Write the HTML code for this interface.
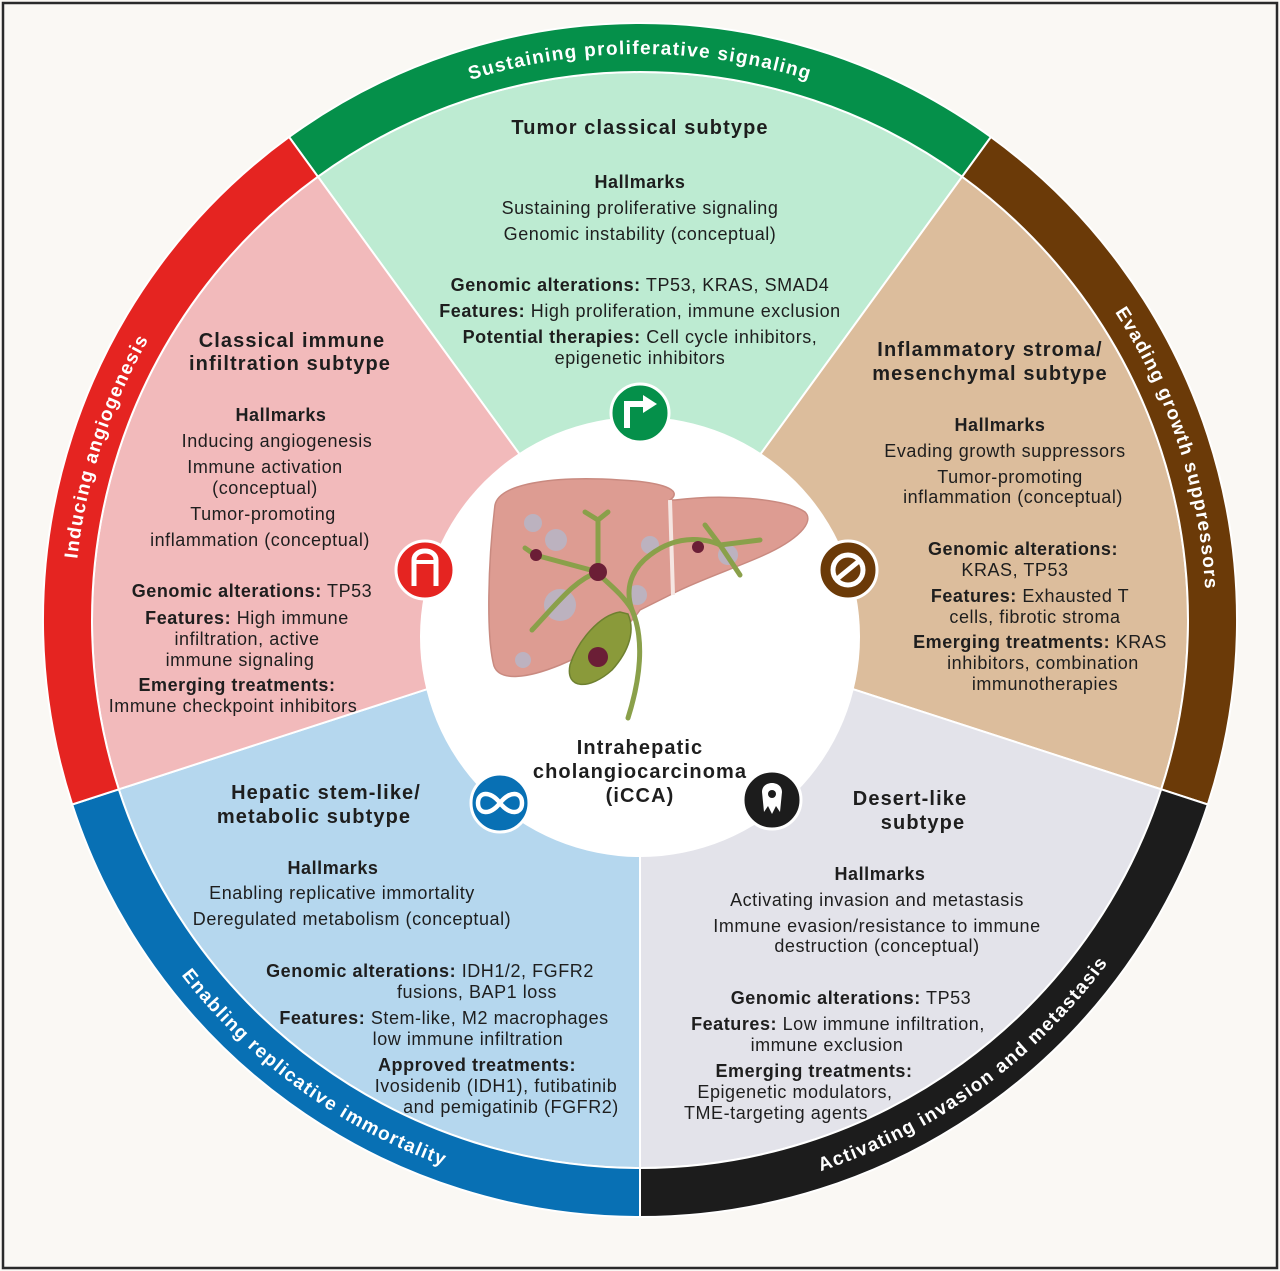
<!DOCTYPE html>
<html><head><meta charset="utf-8"><style>
html,body{margin:0;padding:0;background:#faf8f4}
svg{display:block}
text{font-family:"Liberation Sans",sans-serif;fill:#1e1e1e}
.b{font-size:18px;text-anchor:middle;letter-spacing:0.55px}
.t{font-size:20px;font-weight:bold;text-anchor:middle;letter-spacing:1.1px}
.h{font-weight:bold}
.r{font-family:"Liberation Sans",sans-serif;font-size:19px;font-weight:bold;fill:#fff;letter-spacing:1.3px}
</style></head><body>
<svg width="1280" height="1271" viewBox="0 0 1280 1271" xmlns="http://www.w3.org/2000/svg">
<rect x="3" y="3" width="1274" height="1265" fill="#faf8f4" stroke="#2a2a2a" stroke-width="2.5"/>
<g stroke="#fff" stroke-width="2">
<path d="M640,620 L317.9,176.7 A548,548 0 0 1 962.1,176.7 Z" fill="#bdebd2"/>
<path d="M640,620 L962.1,176.7 A548,548 0 0 1 1161.2,789.3 Z" fill="#dcbd9c"/>
<path d="M640,620 L1161.2,789.3 A548,548 0 0 1 640,1168 Z" fill="#e3e3ea"/>
<path d="M640,620 L640,1168 A548,548 0 0 1 118.8,789.3 Z" fill="#b5d7ee"/>
<path d="M640,620 L118.8,789.3 A548,548 0 0 1 317.9,176.7 Z" fill="#f2babb"/>
</g>
<g stroke="#fff" stroke-width="2">
<path d="M289.1,137 A597,597 0 0 1 990.9,137 L962.1,176.7 A548,548 0 0 0 317.9,176.7 Z" fill="#05904a"/>
<path d="M990.9,137 A597,597 0 0 1 1207.8,804.5 L1161.2,789.3 A548,548 0 0 0 962.1,176.7 Z" fill="#6b3a08"/>
<path d="M1207.8,804.5 A597,597 0 0 1 640,1217 L640,1168 A548,548 0 0 0 1161.2,789.3 Z" fill="#1c1c1c"/>
<path d="M640,1217 A597,597 0 0 1 72.2,804.5 L118.8,789.3 A548,548 0 0 0 640,1168 Z" fill="#0870b4"/>
<path d="M72.2,804.5 A597,597 0 0 1 289.1,137 L317.9,176.7 A548,548 0 0 0 118.8,789.3 Z" fill="#e52421"/>
</g>
<defs>
<path id="pt" d="M307.3,162.1 A566,566 0 0 1 972.7,162.1"/>
<path id="pr" d="M972.7,162.1 A566,566 0 0 1 1178.3,794.9"/>
<path id="pl" d="M101.7,794.9 A566,566 0 0 1 307.3,162.1"/>
<path id="pbr" d="M640,1200 A580,580 0 0 0 1191.6,799.2"/>
<path id="pbl" d="M88.4,799.2 A580,580 0 0 0 640,1200"/>
</defs>
<text class="r" text-anchor="middle"><textPath href="#pt" startOffset="50%">Sustaining proliferative signaling</textPath></text>
<text class="r" text-anchor="middle"><textPath href="#pr" startOffset="50%">Evading growth suppressors</textPath></text>
<text class="r" text-anchor="middle"><textPath href="#pl" startOffset="50%">Inducing angiogenesis</textPath></text>
<text class="r" text-anchor="middle"><textPath href="#pbr" startOffset="50%">Activating invasion and metastasis</textPath></text>
<text class="r" text-anchor="middle"><textPath href="#pbl" startOffset="50%">Enabling replicative immortality</textPath></text>

<circle cx="640" cy="637" r="220" fill="#fff"/>
<g>
<path d="M495,505 C500,482 560,476 620,480 C662,482 684,490 670,500 L675,500 C722,494 785,498 805,512 C815,522 798,540 762,556 C735,568 700,580 676,592 L640,610 C625,632 600,648 560,665 C528,678 500,682 494,666 C486,636 488,562 495,505 Z" fill="#dd9c92" stroke="#c98a80" stroke-width="1.5"/>
<path d="M670,500 L673,595" stroke="#f5e6e2" stroke-width="4"/>
<g fill="#b7b6c8" opacity="0.85">
<circle cx="533" cy="523" r="9"/><circle cx="556" cy="540" r="11"/><circle cx="650" cy="545" r="9"/><circle cx="728" cy="555" r="10"/>
<circle cx="560" cy="605" r="16"/><circle cx="637" cy="595" r="10"/><circle cx="523" cy="660" r="8"/>
</g>
<g stroke="#8aa04a" stroke-width="5" fill="none" stroke-linecap="round">
<path d="M628,718 C640,680 645,640 632,610 C625,590 630,570 650,555 C680,532 710,540 720,545"/>
<path d="M632,610 C620,590 600,578 598,572 L535,555"/>
<path d="M598,572 L598,520 L585,512 M598,520 L608,512"/>
<path d="M598,572 C575,580 560,600 532,630"/>
<path d="M720,545 L760,540 M720,545 L740,575 M720,545 L705,525"/>
<path d="M535,555 L525,548"/>
</g>
<path d="M620,612 C600,615 578,640 570,665 C565,690 590,690 612,670 C630,650 635,630 628,614 Z" fill="#8a9a3a" stroke="#6e8030" stroke-width="1.5"/>
<g fill="#6b1e36">
<circle cx="536" cy="555" r="6"/><circle cx="598" cy="572" r="9"/><circle cx="698" cy="547" r="6"/><circle cx="598" cy="657" r="10"/>
</g>
</g>
<text class="t" x="640" y="754">Intrahepatic</text>
<text class="t" x="640" y="778">cholangiocarcinoma</text>
<text class="t" x="640" y="802">(iCCA)</text>

<g stroke="#fff" stroke-width="3">
<circle cx="640" cy="413" r="29" fill="#05904a"/>
<circle cx="425" cy="570" r="29" fill="#e52421"/>
<circle cx="848" cy="570" r="29" fill="#6b3a08"/>
<circle cx="500" cy="803" r="29" fill="#0870b4"/>
<circle cx="772" cy="800" r="29" fill="#1c1c1c"/>
</g>
<path d="M627,428 L627,404 L645,404" stroke="#fff" stroke-width="6" fill="none"/>
<path d="M643,395 L657,404 L643,413 Z" fill="#fff"/>
<path d="M414,586 L414,560 C414,548 436,548 436,560 L436,586" stroke="#fff" stroke-width="5" fill="none"/>
<path d="M414,562 L436,562" stroke="#fff" stroke-width="4"/>
<circle cx="848" cy="570" r="15" fill="none" stroke="#fff" stroke-width="5"/>
<path d="M837,579 L859,561" stroke="#fff" stroke-width="5"/>
<path d="M500,803 C490,790 478,792 478,803 C478,814 490,816 500,803 C510,790 522,792 522,803 C522,814 510,816 500,803 Z" fill="none" stroke="#fff" stroke-width="4.5"/>
<path d="M764,812 L762,792 C762,780 782,780 782,792 L780,812 L776,806 L772,814 L768,806 Z" fill="#fff"/>
<circle cx="772" cy="794" r="4" fill="#1c1c1c"/>

<text class="t" x="640" y="134">Tumor classical subtype</text>
<text class="b" x="640" y="188"><tspan class="h">Hallmarks</tspan></text>
<text class="b" x="640" y="214">Sustaining proliferative signaling</text>
<text class="b" x="640" y="240">Genomic instability (conceptual)</text>
<text class="b" x="640" y="291"><tspan class="h">Genomic alterations:</tspan> TP53, KRAS, SMAD4</text>
<text class="b" x="640" y="317"><tspan class="h">Features:</tspan> High proliferation, immune exclusion</text>
<text class="b" x="640" y="343"><tspan class="h">Potential therapies:</tspan> Cell cycle inhibitors,</text>
<text class="b" x="640" y="364">epigenetic inhibitors</text>

<text class="t" x="292" y="347">Classical immune</text>
<text class="t" x="290" y="370">infiltration subtype</text>
<text class="b" x="281" y="421"><tspan class="h">Hallmarks</tspan></text>
<text class="b" x="277" y="447">Inducing angiogenesis</text>
<text class="b" x="265" y="473">Immune activation</text>
<text class="b" x="265" y="494">(conceptual)</text>
<text class="b" x="263" y="520">Tumor-promoting</text>
<text class="b" x="260" y="546">inflammation (conceptual)</text>
<text class="b" x="252" y="597"><tspan class="h">Genomic alterations:</tspan> TP53</text>
<text class="b" x="247" y="624"><tspan class="h">Features:</tspan> High immune</text>
<text class="b" x="247" y="645">infiltration, active</text>
<text class="b" x="240" y="666">immune signaling</text>
<text class="b" x="237" y="691"><tspan class="h">Emerging treatments:</tspan></text>
<text class="b" x="233" y="712">Immune checkpoint inhibitors</text>

<text class="t" x="990" y="356">Inflammatory stroma/</text>
<text class="t" x="990" y="380">mesenchymal subtype</text>
<text class="b" x="1000" y="431"><tspan class="h">Hallmarks</tspan></text>
<text class="b" x="1005" y="457">Evading growth suppressors</text>
<text class="b" x="1010" y="483">Tumor-promoting</text>
<text class="b" x="1013" y="503">inflammation (conceptual)</text>
<text class="b" x="1023" y="555"><tspan class="h">Genomic alterations:</tspan></text>
<text class="b" x="1015" y="576">KRAS, TP53</text>
<text class="b" x="1030" y="602"><tspan class="h">Features:</tspan> Exhausted T</text>
<text class="b" x="1035" y="623">cells, fibrotic stroma</text>
<text class="b" x="1040" y="648"><tspan class="h">Emerging treatments:</tspan> KRAS</text>
<text class="b" x="1043" y="669">inhibitors, combination</text>
<text class="b" x="1045" y="690">immunotherapies</text>

<text class="t" x="326" y="799">Hepatic stem-like/</text>
<text class="t" x="314" y="823">metabolic subtype</text>
<text class="b" x="333" y="874"><tspan class="h">Hallmarks</tspan></text>
<text class="b" x="342" y="899">Enabling replicative immortality</text>
<text class="b" x="352" y="925">Deregulated metabolism (conceptual)</text>
<text class="b" x="430" y="977"><tspan class="h">Genomic alterations:</tspan> IDH1/2, FGFR2</text>
<text class="b" x="477" y="998">fusions, BAP1 loss</text>
<text class="b" x="444" y="1024"><tspan class="h">Features:</tspan> Stem-like, M2 macrophages</text>
<text class="b" x="468" y="1045">low immune infiltration</text>
<text class="b" x="477" y="1071"><tspan class="h">Approved treatments:</tspan></text>
<text class="b" x="496" y="1092">Ivosidenib (IDH1), futibatinib</text>
<text class="b" x="511" y="1113">and pemigatinib (FGFR2)</text>

<text class="t" x="910" y="805">Desert-like</text>
<text class="t" x="923" y="829">subtype</text>
<text class="b" x="880" y="880"><tspan class="h">Hallmarks</tspan></text>
<text class="b" x="877" y="906">Activating invasion and metastasis</text>
<text class="b" x="877" y="932">Immune evasion/resistance to immune</text>
<text class="b" x="877" y="952">destruction (conceptual)</text>
<text class="b" x="851" y="1004"><tspan class="h">Genomic alterations:</tspan> TP53</text>
<text class="b" x="838" y="1030"><tspan class="h">Features:</tspan> Low immune infiltration,</text>
<text class="b" x="827" y="1051">immune exclusion</text>
<text class="b" x="814" y="1077"><tspan class="h">Emerging treatments:</tspan></text>
<text class="b" x="795" y="1098">Epigenetic modulators,</text>
<text class="b" x="776" y="1119">TME-targeting agents</text>
</svg>
</body></html>
